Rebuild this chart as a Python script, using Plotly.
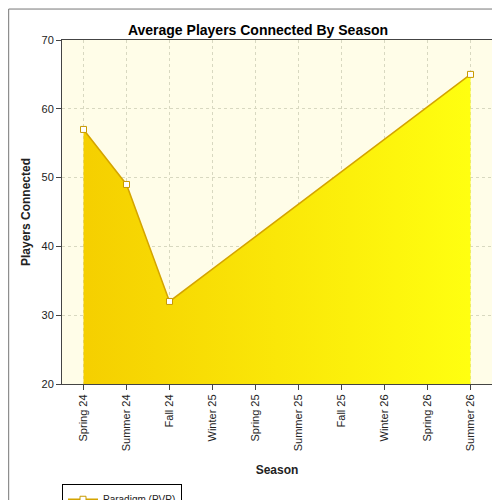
import plotly.graph_objects as go

seasons = ["Spring 24", "Summer 24", "Fall 24", "Winter 25", "Spring 25",
           "Summer 25", "Fall 25", "Winter 26", "Spring 26", "Summer 26"]
known_idx = [0, 1, 2, 9]
players = [57, 49, 32, 65]

fig = go.Figure()
fig.add_trace(go.Scatter(
    x=[seasons[i] for i in known_idx], y=players, name="Paradigm (PVP)",
    mode="lines+markers", fill="tozeroy",
    fillgradient=dict(type="horizontal", colorscale=[[0, "#f5cf00"], [1, "#ffff10"]]),
    line=dict(color="#d4a400", width=1.5),
    marker=dict(symbol="square", size=6, color="white", line=dict(color="#c89a00", width=1)),
))

fig.update_layout(
    width=500, height=500,
    margin=dict(l=54, r=16, t=32, b=124, autoexpand=False),
    paper_bgcolor="white",
    plot_bgcolor="#fffde8",
    title=dict(text="<b>Average Players Connected By Season</b>", x=0.5, y=0.965,
               font=dict(family="Liberation Sans, Arial", size=14, color="black")),
    font=dict(family="Liberation Sans, Arial", size=11, color="#222"),
    xaxis=dict(categoryorder="array", categoryarray=seasons, range=[-0.5, 9.5],
               tickangle=-90, showgrid=True, gridcolor="#d8d8c0", griddash="dot",
               showline=True, linecolor="#444", mirror=True, ticks="outside", automargin=False,
               title=dict(text="<b>Season</b>", font=dict(size=12))),
    yaxis=dict(range=[20, 70], dtick=10, showgrid=True, gridcolor="#d8d8c0", griddash="dot",
               showline=True, linecolor="#444", mirror=True, ticks="outside", automargin=False,
               title=dict(text="<b>Players Connected</b>", font=dict(size=12), standoff=8)),
    showlegend=True,
    legend=dict(x=0, y=-0.29, xanchor="left", yanchor="top", orientation="h",
                bordercolor="black", borderwidth=1, font=dict(size=10)),
    shapes=[dict(type="rect", xref="paper", yref="paper", x0=-0.124, x1=1.035,
                 y0=-0.357, y1=1.09, layer="above", line=dict(color="#777", width=1))],
)

fig.write_html("out.html")
